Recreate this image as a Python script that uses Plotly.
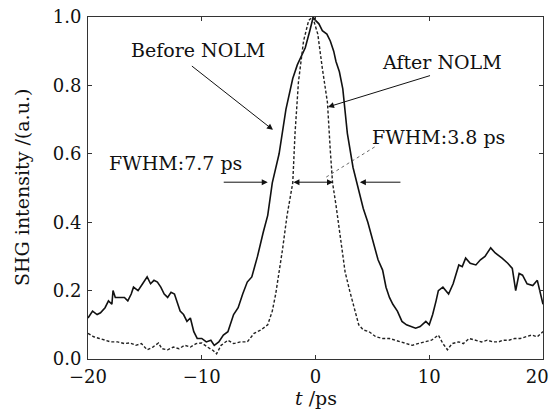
import plotly.graph_objects as go

t_before = [-20, -19.6, -19.2, -18.9, -18.5, -18.2, -17.9, -17.8, -17.6, -17.2, -16.8, -16.5, -16.2, -16.0,
            -15.6, -15.2, -14.8, -14.5, -14.2, -13.9, -13.6, -13.3, -13.0, -12.7, -12.4, -12.1, -11.9, -11.6,
            -11.3, -11.0, -10.7, -10.4, -10.0, -9.6, -9.2, -8.9, -8.5, -8.1, -7.7, -7.2, -6.8, -6.4, -6.0,
            -5.6, -5.1, -4.6, -4.2, -3.8, -3.2, -2.6, -2.0, -1.6, -1.3, -0.9, -0.5, -0.2, 0.0, 0.3, 0.6, 1.0,
            1.3, 1.6, 1.8, 2.1, 2.4, 2.8, 3.3, 3.8, 4.2, 4.6, 5.0, 5.5, 5.9, 6.2, 6.5, 6.8, 7.2, 7.6, 8.0,
            8.4, 8.8, 9.2, 9.7, 10.0, 10.3, 10.6, 10.8, 11.2, 11.7, 12.1, 12.6, 12.9, 13.2, 13.6, 14.1, 14.5,
            14.9, 15.4, 15.8, 16.4, 16.9, 17.3, 17.6, 17.9, 18.2, 18.6, 19.1, 19.5, 19.8, 20.0]
v_before = [0.12, 0.14, 0.13, 0.135, 0.15, 0.17, 0.16, 0.20, 0.18, 0.18, 0.18, 0.17, 0.19, 0.21,
            0.20, 0.22, 0.24, 0.22, 0.23, 0.225, 0.21, 0.19, 0.18, 0.195, 0.19, 0.16, 0.14, 0.13,
            0.11, 0.12, 0.08, 0.06, 0.06, 0.05, 0.055, 0.04, 0.05, 0.07, 0.08, 0.13, 0.15, 0.19, 0.225,
            0.24, 0.30, 0.37, 0.42, 0.515, 0.60, 0.73, 0.82, 0.86, 0.88, 0.91, 0.96, 1.0, 0.99, 0.98, 0.96, 0.95,
            0.93, 0.90, 0.87, 0.84, 0.79, 0.66, 0.56, 0.49, 0.44, 0.40, 0.35, 0.29, 0.26, 0.21, 0.18, 0.16,
            0.14, 0.11, 0.10, 0.095, 0.09, 0.095, 0.11, 0.10, 0.13, 0.17, 0.20, 0.21, 0.19, 0.22, 0.275,
            0.27, 0.295, 0.28, 0.275, 0.29, 0.30, 0.325, 0.31, 0.295, 0.28, 0.265, 0.20, 0.25, 0.245, 0.22,
            0.215, 0.23, 0.19, 0.16]

t_after = [-20, -19.5, -19, -18.5, -18, -17.4, -16.8, -16.3, -15.8, -15.3, -14.8, -14.3, -13.8, -13.5,
           -13.0, -12.5, -12.0, -11.5, -11.0, -10.5, -10.0, -9.5, -9.0, -8.7, -8.3, -7.7, -7.2, -6.6, -6.0,
           -5.4, -4.8, -4.2, -3.8, -3.5, -3.2, -2.9, -2.5, -2.0, -1.8, -1.5, -1.05, -0.6, -0.25, 0.2, 0.6,
           1.05, 1.3, 1.5, 1.8, 2.2, 2.6, 3.0, 3.3, 3.8, 4.2, 4.7, 5.3, 5.9, 6.5, 7.0, 7.6, 8.0, 8.5, 9.0,
           9.7, 10.2, 10.8, 11.2, 11.6, 12.0, 12.6, 13.0, 13.5, 14.1, 14.6, 15.1, 15.6, 16.1, 16.5, 17.0,
           17.5, 18.0, 18.5, 19.0, 19.5, 20.0]
v_after = [0.075, 0.065, 0.06, 0.055, 0.05, 0.05, 0.045, 0.047, 0.04, 0.045, 0.027, 0.035, 0.047, 0.03,
           0.027, 0.035, 0.03, 0.04, 0.035, 0.045, 0.047, 0.035, 0.025, 0.015, 0.04, 0.055, 0.045, 0.05, 0.05,
           0.075, 0.085, 0.10, 0.14, 0.19, 0.25, 0.32, 0.42, 0.515, 0.66, 0.81, 0.93, 0.99, 1.0, 0.95, 0.85,
           0.75, 0.61, 0.515, 0.45, 0.35, 0.255, 0.20, 0.16, 0.10, 0.085, 0.08, 0.065, 0.06, 0.06, 0.055,
           0.05, 0.045, 0.04, 0.045, 0.05, 0.055, 0.07, 0.045, 0.027, 0.045, 0.05, 0.045, 0.06, 0.055, 0.05,
           0.055, 0.05, 0.05, 0.055, 0.055, 0.06, 0.06, 0.065, 0.07, 0.065, 0.08]

x_ticks = [-20, -10, 0, 10, 20]
x_tick_text = ["\u221220", "\u221210", "0", "10", "20&nbsp;&nbsp;"]
y_ticks = [0.0, 0.2, 0.4, 0.6, 0.8, 1.0]
y_tick_text = ["0.0", "0.2", "0.4", "0.6", "0.8", "1.0"]

FONT = "DejaVu Serif"
W, H = 550, 411
ML, MR, MT, MB = 88, 7, 17, 52
PW, PH = W - ML - MR, H - MT - MB

fig = go.Figure()
fig.add_trace(go.Scatter(x=t_before, y=v_before, mode="lines", name="Before NOLM",
                         line=dict(color="#111", width=1.6)))
fig.add_trace(go.Scatter(x=t_after, y=v_after, mode="lines", name="After NOLM",
                         line=dict(color="#222", width=1.4, dash="3px,2px")))

txt = dict(family=FONT, size=19, color="#111")
ann = [
    dict(x=-10.3, y=0.904, text="Before NOLM", showarrow=False, font=txt),
    dict(x=11.1, y=0.868, text="After NOLM", showarrow=False, font=txt),
    dict(x=10.8, y=0.649, text="FWHM:3.8 ps", showarrow=False, font=txt),
    dict(x=-12.3, y=0.573, text="FWHM:7.7 ps", showarrow=False, font=txt),
]
arrow = dict(showarrow=True, text="", axref="x", ayref="y", xref="x", yref="y",
             arrowhead=2, arrowsize=1.2, arrowwidth=1, arrowcolor="#111")
ann += [
    dict(x=-3.74, y=0.67, ax=-11.0, ay=0.86, **arrow),
    dict(x=1.1, y=0.737, ax=10.2, ay=0.83, **arrow),
    dict(x=-4.2, y=0.517, ax=-8.2, ay=0.517, **arrow),
    dict(x=3.9, y=0.517, ax=7.6, ay=0.517, **arrow),
    dict(x=1.54, y=0.517, ax=-2.07, ay=0.517, arrowside="end+start", **arrow),
]
# axis titles (x: 39px below the axis; y: centred 66px left of the axis)
ann += [
    dict(x=0, y=-39 / PH, xref="x", yref="paper", xanchor="center", yanchor="middle",
         text="<i>t</i> /ps", showarrow=False, font=txt),
    dict(x=-66 / PW, y=0.5, xref="paper", yref="paper", xanchor="center", yanchor="middle",
         textangle=-90, text="SHG intensity /(a.u.)", showarrow=False, font=txt),
]

fig.update_layout(
    width=W, height=H,
    margin=dict(l=ML, r=MR, t=MT, b=MB),
    paper_bgcolor="white", plot_bgcolor="white",
    showlegend=False,
    font=dict(family=FONT, size=18, color="#111"),
    annotations=ann,
    shapes=[dict(type="line", xref="x", yref="y", x0=5.2, y0=0.62, x1=0.85, y1=0.53,
                 line=dict(color="#444", width=0.8, dash="dot"))],
    xaxis=dict(range=[-20, 20], tickvals=x_ticks, ticktext=x_tick_text, ticks="inside", ticklen=4,
               tickcolor="#333", showline=True, linecolor="#333", linewidth=1, mirror="ticks",
               showgrid=False, zeroline=False, tickfont=dict(family=FONT, size=18),
               ticklabeloverflow="allow", ticklabelstandoff=1, automargin=False),
    yaxis=dict(range=[0, 1.0], tickvals=y_ticks, ticktext=y_tick_text, ticks="inside", ticklen=4,
               tickcolor="#333", showline=True, linecolor="#333", linewidth=1, mirror="ticks",
               showgrid=False, zeroline=False, tickfont=dict(family=FONT, size=18),
               ticklabelstandoff=2, automargin=False),
)

fig.write_html("out.html", config={"displayModeBar": False},
               post_script="document.body.style.margin='0';document.body.style.overflow='hidden';")
